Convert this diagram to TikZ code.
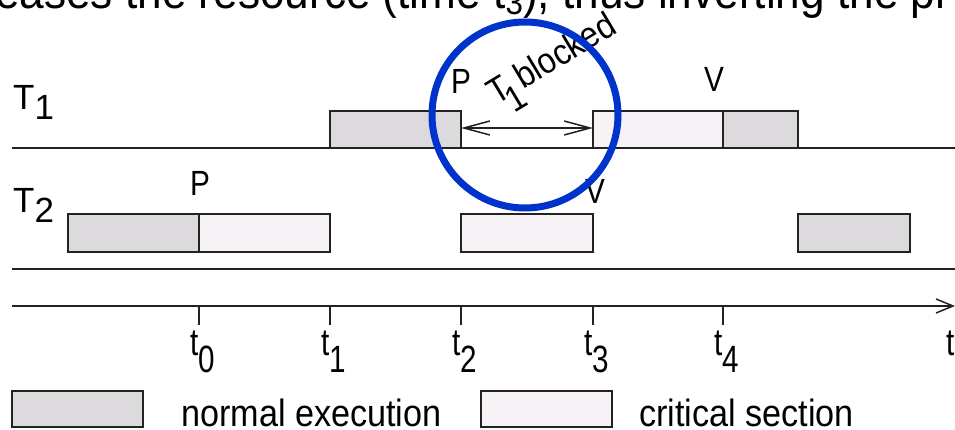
\documentclass[tikz,border=0pt]{standalone}
\usepackage{fontspec}
\setmainfont{Liberation Sans}
\usetikzlibrary{arrows.meta}
\definecolor{normalgray}{HTML}{DCDADD}
\definecolor{critpink}{HTML}{F6F2F6}
\definecolor{markblue}{HTML}{0033CC}
\definecolor{ink}{HTML}{222222}
\newcommand{\fsz}[1]{\fontsize{#1}{#1}\selectfont}
\begin{document}
\begin{tikzpicture}[x=1pt,y=-1pt,
  rule/.style={draw=ink, line width=1.8pt},
  normalbox/.style={draw=ink, line width=1.6pt, fill=normalgray},
  critbox/.style={draw=ink, line width=1.6pt, fill=critpink},
  task/.style={inner sep=0pt, anchor=base west, font=\fsz{35}},
  sem/.style={inner sep=0pt, anchor=base, font=\fsz{35}, xscale=0.85},
  tick/.style={draw=ink, line width=1.4pt},
  ticklbl/.style={inner sep=0pt, anchor=base west, font=\fsz{38}, xscale=0.78},
  legendtxt/.style={inner sep=0pt, anchor=base west, font=\fsz{38}, xscale=0.9},
]
\useasboundingbox (0,0) rectangle (955,430);

% running sentence at the top edge, cut by the frame
\begin{scope}
  \clip (0,0) rectangle (955,430);
  \node[inner sep=0pt, anchor=base west, font=\fsz{48}, xscale=0.92] (caption) at (-5,9)
    {eases the resource (time t\raisebox{-0.12em}{\fsz{34}3}), thus inverting the pr};
\end{scope}

% task labels
\node[task] (T1) at (13,110) {T\raisebox{-0.28em}{1}};
\node[task] (T2) at (13,213) {T\raisebox{-0.28em}{2}};

% task base lines
\coordinate (L1a) at (12,148);  \coordinate (L1b) at (955,148);
\coordinate (L2a) at (12,269);  \coordinate (L2b) at (955,269);
\draw[rule] (L1a) -- (L1b);
\draw[rule] (L2a) -- (L2b);

% T1 execution
\path[normalbox] (330,111) rectangle (461,148);
\path[critbox]   (593,111) rectangle (723,148);
\path[normalbox] (723,111) rectangle (798,148);

% T2 execution
\path[normalbox] (68,214)  rectangle (199,252);
\path[critbox]   (199,214) rectangle (330,252);
\path[critbox]   (461,214) rectangle (593,252);
\path[normalbox] (798,214) rectangle (910,252);

% semaphore operations
\node[sem] (P1) at (461,94)  {P};
\node[sem] (V1) at (714,92)  {V};
\node[sem] (P2) at (200,196) {P};
\node[sem] (V2) at (595,204) {V};

% blocking interval of T1
\coordinate (blkA) at (461,128);
\coordinate (blkB) at (593,128);
\draw[draw=ink, line width=1.5pt,
      {Straight Barb[length=26pt,width=14pt,line width=1.5pt]}-{Straight Barb[length=26pt,width=14pt,line width=1.5pt]}]
  (blkA) -- (blkB);
\node[inner sep=0pt, anchor=base west, rotate=31, font=\fsz{36}, xscale=0.9] (blk) at (496,106)
  {T\kern-0.25em\raisebox{-0.45em}{1}\kern0.05em blocked};

% highlight ring
\coordinate (ringC) at (525,115);
\draw[markblue, line width=7pt] (ringC) circle[radius=93];

% time axis
\coordinate (ax0) at (12,306);
\coordinate (ax1) at (955,306);
\draw[draw=ink, line width=1.8pt, -{Straight Barb[length=17pt,width=14pt,line width=1.5pt]}] (ax0) -- (ax1);
\foreach \x/\i in {199/0, 330/1, 461/2, 593/3, 723/4} {
  \coordinate (tk\i) at (\x,306);
  \draw[tick] (tk\i) -- ++(0,19);
  \node[ticklbl] (tl\i) at (\x-9,355) {t\raisebox{-0.47em}{\i}};
}
\node[inner sep=0pt, anchor=base west, font=\fsz{38}, xscale=0.78] (tlab) at (946,355) {t};

% legend
\path[normalbox] (12,391) rectangle (143,427);
\node[legendtxt] (lg1) at (181,426) {normal execution};
\path[critbox] (481,391) rectangle (612,427);
\node[legendtxt] (lg2) at (639,426) {critical section};
\end{tikzpicture}
\end{document}
